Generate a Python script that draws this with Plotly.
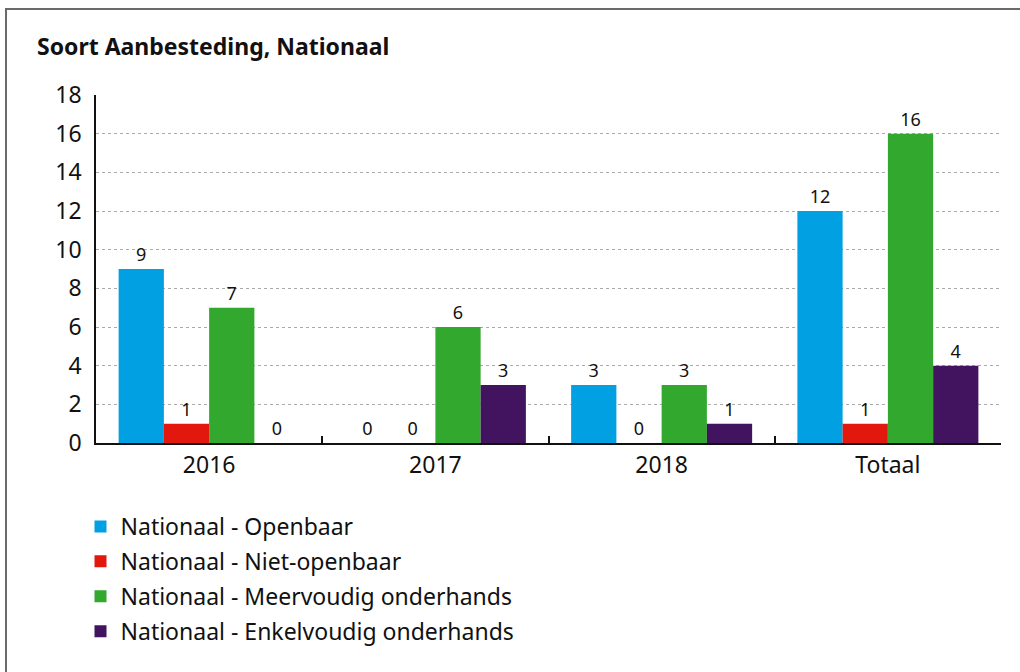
import plotly.graph_objects as go

categories = ["2016", "2017", "2018", "Totaal"]
series_names = [
    "Nationaal - Openbaar",
    "Nationaal - Niet-openbaar",
    "Nationaal - Meervoudig onderhands",
    "Nationaal - Enkelvoudig onderhands",
]
openbaar = [9, 0, 3, 12]
niet_openbaar = [1, 0, 0, 1]
meervoudig = [7, 6, 3, 16]
enkelvoudig = [0, 3, 1, 4]
y_ticks = [0, 2, 4, 6, 8, 10, 12, 14, 16, 18]

series_values = [openbaar, niet_openbaar, meervoudig, enkelvoudig]
colors = ["#00A0E2", "#E2180F", "#32A82E", "#42145F"]

FONT = "Noto Sans"
W, H = 1020, 672
ML, MR, MT, MB = 96, 19, 95, 229
pw = W - ML - MR
ph = H - MT - MB

fig = go.Figure()
for name, vals, col in zip(series_names, series_values, colors):
    fig.add_trace(go.Bar(
        x=categories, y=vals, name=name,
        marker=dict(color=col, line=dict(width=0)),
        text=[str(v) for v in vals], textposition="outside",
        textfont=dict(family=FONT, size=18, color="#111"),
        cliponaxis=False, legendgroup=name,
    ))

fig.update_layout(
    width=W, height=H,
    margin=dict(l=ML, r=MR, t=MT, b=MB, autoexpand=False),
    paper_bgcolor="white", plot_bgcolor="white",
    barmode="group", bargap=0.2, bargroupgap=0,
    font=dict(family=FONT, color="#111"),
    title=dict(text="<b>Soort Aanbesteding, Nationaal</b>",
               x=37 / W, xref="container", xanchor="left",
               y=1 - 47 / H, yref="container", yanchor="middle",
               font=dict(family=FONT, size=23, color="#111")),
    xaxis=dict(type="category", tickson="boundaries", ticks="inside", ticklen=7,
               tickcolor="#111", tickwidth=1.5, showline=True, linecolor="#111", linewidth=2,
               tickfont=dict(family=FONT, size=23, color="#111"), showgrid=False,
               automargin=False),
    yaxis=dict(range=[0, 18], tickvals=y_ticks, showline=True, linecolor="#111", linewidth=1.5,
               showgrid=True, gridcolor="#aaaaaa", griddash="dot", gridwidth=1,
               tickfont=dict(family=FONT, size=23, color="#111"), ticks="", zeroline=False,
               ticklabelstandoff=8, automargin=False),
    legend=dict(orientation="v", x=(80.5 - ML) / pw, xanchor="left",
                y=-(505 - (H - MB)) / ph, yanchor="top",
                font=dict(family=FONT, size=23, color="#111"), itemwidth=30,
                tracegroupgap=2, bgcolor="rgba(0,0,0,0)"),
    showlegend=True,
    shapes=[dict(type="rect", xref="paper", yref="paper",
                 x0=(6 - ML) / pw, x1=(W + 20 - ML) / pw,
                 y0=-(MB + 20) / ph, y1=(H - MB - 9) / ph,
                 line=dict(color="#6a6a6a", width=2), fillcolor="rgba(0,0,0,0)", layer="below")],
)

fig.write_html("out.html", config={"displayModeBar": False},
               post_script="document.body.style.margin='0';document.body.style.overflow='hidden';")
